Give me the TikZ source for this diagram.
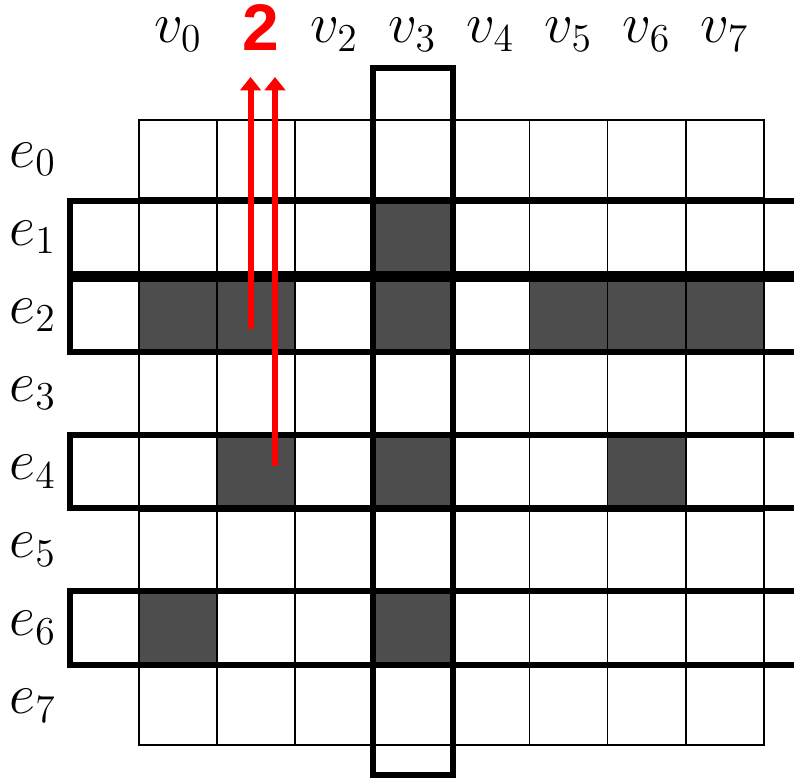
\documentclass[tikz,border=0pt]{standalone}
\usepackage{fontspec}
\setsansfont{Liberation Sans}
\usetikzlibrary{positioning,arrows.meta,calc}
\definecolor{Cell}{RGB}{77,77,77}
\definecolor{Hit}{RGB}{255,0,0}
\begin{document}
\begin{tikzpicture}[x=1cm,y=1cm,
 cell/.style={draw,line width=.6pt,minimum size=1cm,inner sep=0,outer sep=0},
 on/.style={cell,fill=Cell},
 lab/.style={font=\fontsize{20}{24}\selectfont,anchor=base,inner sep=0},
 box/.style={draw,line width=2.2pt},
 ptr/.style={-{Triangle[width=.26cm,length=.17cm]},line width=2.2pt,Hit}]
\useasboundingbox (-1.78,-0.41) rectangle (8.386,9.539);
\clip (-1.78,-0.41) rectangle (8.386,9.539);
% grid
\foreach \r in {0,...,7}{
 \foreach \c in {0,...,7}
  \node[cell] (c-\r-\c) at (\c+.5,7.5-\r) {};
 \node[lab] (e\r) at (-1.36,7.4-\r) {$e_\r$};}
\foreach \r/\c in {1/3,2/0,2/1,2/3,2/5,2/6,2/7,4/1,4/3,4/6,6/0,6/3}
  \node[on] at (c-\r-\c) {};
% labels
\foreach \c in {0,2,3,4,5,6,7}
  \node[lab] (v\c) at (\c+.5,8.99) {$v_\c$};
\node[lab,font=\sffamily\bfseries\fontsize{24}{28}\selectfont,text=Hit] (v1) at (1.556,8.89) {2};
% selected rows and column
\foreach \r in {1,2,4,6}
  \draw[box] (-0.883,7.03-\r) rectangle (8.6,7.97-\r);
\draw[box] (3,-0.384) rectangle (4.02,8.668);
% pointers
\coordinate (s1) at ($(c-2-1)+(-.072,-.17)$);
\coordinate (s2) at ($(c-4-1)+(.241,.072)$);
\coordinate (t) at (0,8.553);
\draw[ptr] (s1) -- (s1 |- t);
\draw[ptr] (s2) -- (s2 |- t);
\end{tikzpicture}
\end{document}
